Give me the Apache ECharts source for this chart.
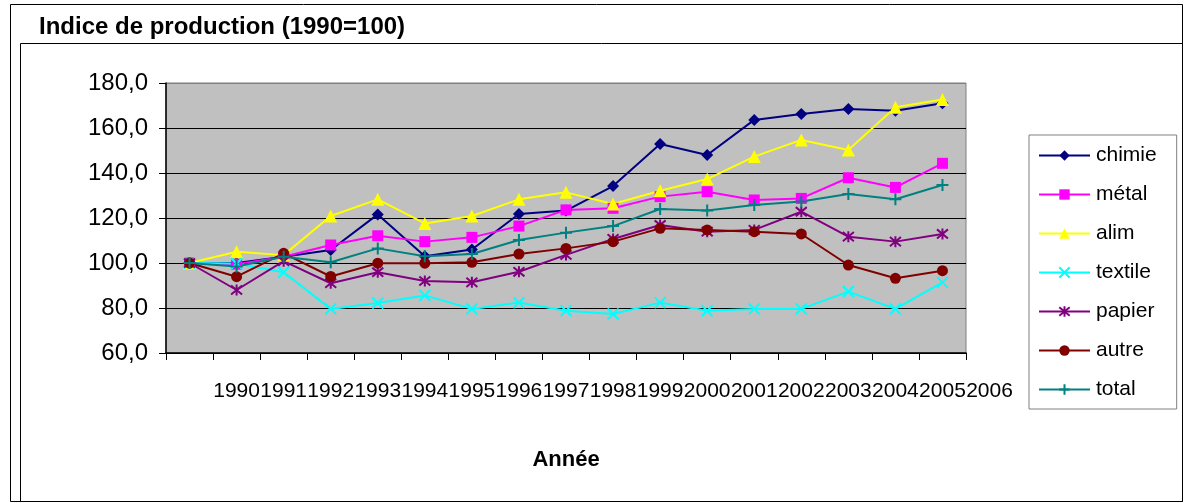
<!DOCTYPE html>
<html>
<head>
<meta charset="utf-8">
<title>Indice de production</title>
<script src="https://cdn.jsdelivr.net/npm/echarts@6/dist/echarts.min.js"></script>
<style>
  html, body { margin: 0; padding: 0; background: #fff; }
  #chart { width: 1186px; height: 503px; }
</style>
</head>
<body>
<div id="chart"></div>
<script>
// data (17 points, last label slot has no point)
const points = ['0', '1', '2', '3', '4', '5', '6', '7', '8', '9', '10', '11', '12', '13', '14', '15', '16']
const yearLabels = ['', '1990', '1991', '1992', '1993', '1994', '1995', '1996', '1997', '1998', '1999',
  '2000', '2001', '2002', '2003', '2004', '2005', '2006']

const chimie = [100, 100, 102.8, 105.8, 121.6, 103, 106, 121.8, 123.3, 134.2, 152.9, 148, 163.6, 166.2, 168.4, 167.7, 171]
const metal = [100, 99.5, 102.8, 108, 112.1, 109.5, 111.4, 116.4, 123.6, 124.3, 129.5, 131.7, 128, 128.7, 137.9, 133.6, 144.3]
const alim = [100, 105, 103.5, 120.9, 128.3, 117.6, 120.9, 128.3, 131.4, 126.2, 132.1, 137.3, 147.3, 154.7, 150.2, 169.2, 172.7]
const textile = [100, 99.8, 95.9, 79.6, 82.2, 85.6, 79.6, 82.4, 78.8, 77.3, 82.4, 78.8, 79.6, 79.6, 87.3, 79.6, 91.4]
const papier = [100, 88, 100.8, 91, 95.9, 92, 91.4, 96.1, 103.6, 110.7, 116.9, 113.9, 114.7, 122.8, 111.7, 109.5, 112.9]
const autre = [100, 93.9, 104.3, 94, 99.9, 99.9, 100.3, 104, 106.5, 109.5, 115.4, 114.7, 113.9, 112.9, 99.1, 93.2, 96.6]
const total = [100, 98.4, 102.8, 100.3, 106.5, 103, 104, 110.2, 113.5, 116.4, 124, 123.3, 125.8, 127.3, 130.7, 128.3, 134.7]

const FONT = '"Liberation Sans", Arial, sans-serif'

const SYM_X = 'path://M0,0L10,10M10,0L0,10'
const SYM_STAR = 'path://M0,0L10,10M10,0L0,10M5,-1L5,11'
const SYM_PLUS = 'path://M5,0L5,10M0,5L10,5'

function line(name, data, color, symbol, size, stroked) {
  return {
    name, type: 'line', data,
    xAxisIndex: 0, yAxisIndex: 0,
    symbol, symbolSize: size,
    showAllSymbol: true,
    lineStyle: { color, width: 2 },
    itemStyle: stroked
      ? { color: 'transparent', borderColor: color, borderWidth: 2 }
      : { color, borderColor: color, borderWidth: 0 },
    emphasis: { disabled: true },
  }
}

const chart = echarts.init(document.getElementById('chart'))
chart.setOption({
  animation: false,
  backgroundColor: '#fff',
  textStyle: { fontFamily: FONT },
  title: {
    text: 'Indice de production (1990=100)',
    left: 39, top: 15, padding: 0,
    textStyle: { fontFamily: FONT, fontSize: 24, fontWeight: 'bold', color: '#000' },
  },
  graphic: [
    { type: 'rect', shape: { x: 10.5, y: 4.5, width: 1172, height: 497 },
      style: { fill: null, stroke: '#000', lineWidth: 1 }, silent: true, z: -1 },
    { type: 'rect', shape: { x: 20.5, y: 43.5, width: 1162, height: 458 },
      style: { fill: null, stroke: '#000', lineWidth: 1 }, silent: true, z: -1 },
  ],
  legend: {
    orient: 'vertical',
    left: 1029, top: 135,
    padding: [10, 20, 9, 9],
    itemWidth: 51, itemHeight: 13,
    itemGap: 18,
    borderColor: '#808080', borderWidth: 1,
    backgroundColor: '#fff',
    textStyle: { fontFamily: FONT, fontSize: 21, color: '#000', padding: [0, 0, 0, 1] },
    data: ['chimie', 'métal', 'alim', 'textile', 'papier', 'autre', 'total'],
  },
  grid: [
    { left: 166, top: 83, width: 800, height: 270, show: true,
      backgroundColor: '#c0c0c0', borderColor: '#808080', borderWidth: 1 },
    { left: 166, top: 83, width: 800 * 18 / 17, height: 270, show: false },
  ],
  xAxis: [
    {
      gridIndex: 0, type: 'category', data: points, boundaryGap: true,
      axisLine: { lineStyle: { color: '#000', width: 1.5 } },
      axisTick: { show: true, length: 7, lineStyle: { color: '#000' } },
      axisLabel: { show: false },
      name: 'Année', nameLocation: 'middle', nameGap: 96,
      nameTextStyle: { fontFamily: FONT, fontSize: 22, fontWeight: 'bold', color: '#000' },
    },
    {
      gridIndex: 1, type: 'category', data: yearLabels, boundaryGap: true,
      axisLine: { show: false }, axisTick: { show: false },
      axisLabel: { interval: 0, margin: 28, fontFamily: FONT, fontSize: 21, color: '#000' },
    },
  ],
  yAxis: [
    {
      gridIndex: 0, type: 'value', min: 60, max: 180, interval: 20,
      axisLine: { show: true, lineStyle: { color: '#000', width: 1.5 } },
      axisTick: { show: true, length: 7, lineStyle: { color: '#000' } },
      axisLabel: {
        margin: 18, fontFamily: FONT, fontSize: 24, color: '#000',
        formatter: v => v.toFixed(1).replace('.', ','),
      },
      splitLine: { show: true, lineStyle: { color: ['#000', '#000', '#000', '#000', '#000', '#000', '#808080'], width: 1 } },
    },
    { gridIndex: 1, type: 'value', show: false, min: 60, max: 180 },
  ],
  series: [
    line('chimie', chimie, '#000080', 'diamond', 12, false),
    line('métal', metal, '#ff00ff', 'rect', 11, false),
    line('alim', alim, '#ffff00', 'triangle', 13, false),
    line('textile', textile, '#00ffff', SYM_X, 11, true),
    line('papier', papier, '#800080', SYM_STAR, 11, true),
    line('autre', autre, '#800000', 'circle', 11, false),
    line('total', total, '#008080', SYM_PLUS, 12, true),
  ],
})
</script>
</body>
</html>
